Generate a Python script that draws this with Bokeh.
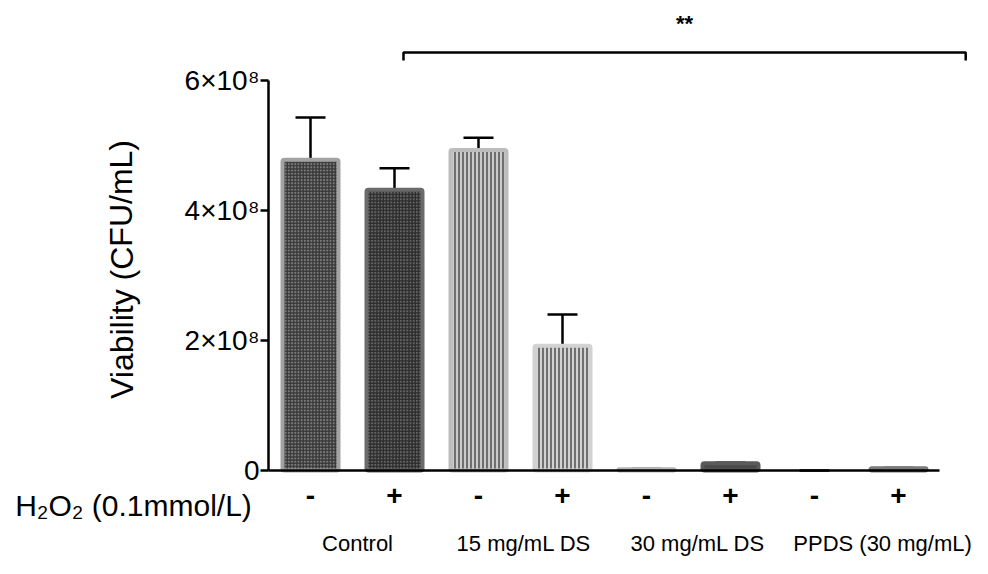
from bokeh.plotting import figure
from bokeh.models import (ColumnDataSource, FixedTicker, LinearAxis, Whisker,
                          TeeHead, Label, Range1d)
from bokeh.embed import file_html
from bokeh.resources import INLINE

# ---------------- data ----------------
conditions = ["-", "+", "-", "+", "-", "+", "-", "+"]
groups = ["Control", "15 mg/mL DS", "30 mg/mL DS", "PPDS (30 mg/mL)"]
group_label_pos = [0.56, 2.54, 4.61, 6.81]
viability = [4.78e8, 4.32e8, 4.93e8, 1.92e8, 0.02e8, 0.11e8, 0.0, 0.035e8]
sem = [0.65e8, 0.33e8, 0.19e8, 0.48e8, 0.005e8, 0.01e8, 0.0, 0.005e8]
y_ticks = [0, 2e8, 4e8, 6e8]
y_tick_labels = ["0", "2×10⁸", "4×10⁸", "6×10⁸"]
significance = "**"
bracket_span = (1.107, 7.80)
bracket_level = 6.43e8

# ---------------- styles ----------------
border_col = ["#a3a3a3", "#6b6b6b", "#bdbdbd", "#d2d2d2", "#b5b5b5", "#5a5a5a", "#ffffff", "#7a7a7a"]
fill_col = ["#7d7d7d", "#666666", "#cacaca", "#d2d2d2", "#8a8a8a", "#4a4a4a", "#ffffff", "#4a4a4a"]
hatch_pat = ["cross", "cross", "vertical_line", "vertical_line", " ", " ", " ", " "]
hatch_col = ["#3a3a3a", "#2e2e2e", "#6f6f6f", "#707070", "#000000", "#000000", "#000000", "#000000"]
hatch_sc = [3.2, 3.2, 4.0, 4.0, 1, 1, 1, 1]
hatch_wt = [1.6, 1.6, 2.0, 2.0, 1, 1, 1, 1]

xs = list(range(len(viability)))
src = ColumnDataSource(dict(
    x=xs, top=viability, upper=[v + e for v, e in zip(viability, sem)],
    line=border_col, fill=fill_col, hatch=hatch_pat, hcol=hatch_col,
    hsc=hatch_sc, hwt=hatch_wt,
    lalpha=[0 if v == 0 else 1 for v in viability],
))

FONT = "Liberation Sans"
W, H = 980, 566
X0, Y0 = 310, 470          # canvas position of first bar centre / zero line
DX = 84.0                  # pixels per category
px = 6e8 / 390.0           # data units per pixel (vertical)

p = figure(width=W, height=H, output_backend="svg", toolbar_location=None,
           x_range=Range1d(-X0 / DX, (W - X0) / DX),
           y_range=Range1d(-(H - Y0) * px, Y0 * px),
           min_border_left=0, min_border_right=0, min_border_top=0,
           min_border_bottom=0)
p.xgrid.visible = False
p.ygrid.visible = False
p.outline_line_color = None
p.background_fill_color = "white"

p.vbar(x="x", top="top", bottom=0, width=56 / DX, source=src,
       fill_color="fill", line_color="line", line_width=4, line_alpha="lalpha",
       hatch_pattern="hatch", hatch_color="hcol", hatch_scale="hsc", hatch_weight="hwt",
       border_radius=2)

w = Whisker(base="x", lower="top", upper="upper", source=src,
            line_color="black", line_width=2.5,
            upper_head=TeeHead(size=30, line_width=2.5, line_color="black"),
            lower_head=None)
p.add_layout(w)

# y axis
ya = p.yaxis[0]
ya.fixed_location = -0.5
ya.ticker = FixedTicker(ticks=y_ticks)
ya.major_label_overrides = {t: l for t, l in zip(y_ticks, y_tick_labels)}
ya.bounds = (0, 6e8)
ya.axis_line_width = 2.5
ya.major_tick_line_width = 2.5
ya.major_tick_out = 8
ya.major_tick_in = 0
ya.minor_tick_line_color = None
ya.major_label_text_font = FONT
ya.major_label_text_font_size = "28px"
ya.major_label_text_color = "black"
ya.major_label_standoff = 1

# x axis (+/- signs)
xa = p.xaxis[0]
xa.fixed_location = 0
xa.ticker = FixedTicker(ticks=xs)
xa.major_label_overrides = {x: c for x, c in zip(xs, conditions)}
xa.bounds = (-0.5, 7.49)
xa.axis_line_width = 2.5
xa.major_tick_line_color = None
xa.minor_tick_line_color = None
xa.major_label_text_font = FONT
xa.major_label_text_font_style = "bold"
xa.major_label_text_font_size = "28px"
xa.major_label_text_color = "black"
xa.major_label_standoff = 9

# group axis
ga = LinearAxis(ticker=FixedTicker(ticks=group_label_pos), fixed_location=0,
                major_label_overrides={g: t for g, t in zip(group_label_pos, groups)},
                axis_line_color=None, major_tick_line_color=None,
                minor_tick_line_color=None,
                major_label_text_font=FONT, major_label_text_font_size="22px",
                major_label_text_color="black", major_label_standoff=54)
p.add_layout(ga, "below")

# y label
p.add_layout(Label(x=(121 - X0) / DX, y=(Y0 - 269) * px, text="Viability (CFU/mL)",
                   angle=1.5708, text_align="center", text_baseline="middle",
                   text_font=FONT, text_font_size="32px", text_color="black"))
# H2O2 label
p.add_layout(Label(x=(133 - X0) / DX, y=(Y0 - 505) * px, text="H₂O₂ (0.1mmol/L)",
                   text_align="center", text_baseline="middle",
                   text_font=FONT, text_font_size="30px", text_color="black"))

# significance bracket
bx = [bracket_span[0], bracket_span[0], bracket_span[1], bracket_span[1]]
by = [bracket_level - 8 * px, bracket_level, bracket_level, bracket_level - 8 * px]
p.line(bx, by, line_color="black", line_width=2.5)
p.add_layout(Label(x=(bracket_span[0] + bracket_span[1]) / 2, y=bracket_level + 29 * px,
                   text=significance, text_align="center", text_baseline="middle",
                   text_font=FONT, text_font_style="bold", text_font_size="22px",
                   text_color="black"))

open("out.html", "w").write(file_html(p, INLINE))
